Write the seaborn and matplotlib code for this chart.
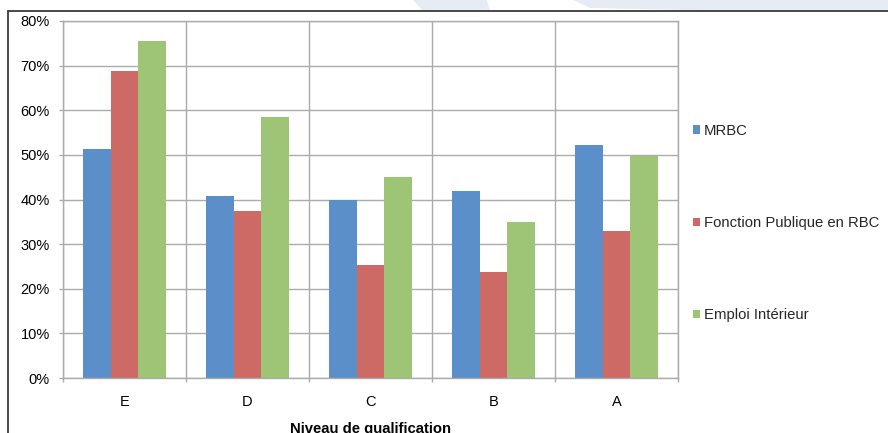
import numpy as np
import pandas as pd
import matplotlib
matplotlib.use("Agg")
import matplotlib.pyplot as plt
from matplotlib.lines import Line2D
from matplotlib.patches import Polygon
from matplotlib.ticker import PercentFormatter, FixedLocator
import seaborn as sns

# Parts par niveau de qualification
niveaux = ["E", "D", "C", "B", "A"]
series = ["MRBC", "Fonction Publique en RBC", "Emploi Intérieur"]
mrbc = [0.513, 0.407, 0.398, 0.418, 0.522]
fonction_publique = [0.688, 0.375, 0.253, 0.238, 0.330]
emploi_interieur = [0.756, 0.584, 0.451, 0.350, 0.498]
y_ticks = [0.0, 0.1, 0.2, 0.3, 0.4, 0.5, 0.6, 0.7, 0.8]
x_label = "Niveau de qualification"

colors = ["#5B8FCA", "#CD6A66", "#9DC575"]
grid_color = "#ABABAB"

df = pd.DataFrame({
    "Niveau": niveaux * len(series),
    "Série": np.repeat(series, len(niveaux)),
    "Part": mrbc + fonction_publique + emploi_interieur,
})

sns.set_theme(style="white")
plt.rcParams["font.family"] = ["Liberation Sans", "DejaVu Sans"]

W, H = 888, 433
fig = plt.figure(figsize=(W / 100, H / 100), dpi=100)
fig.patch.set_facecolor("white")

# faint background shapes along the top strip
for pts in ([(413, 0), (487, 0), (490, 11), (423, 11)],
            [(573, 0), (888, 0), (888, 11), (735, 11), (590, 8)]):
    fig.patches.append(Polygon([(x / W, 1 - y / H) for x, y in pts],
                               closed=True, transform=fig.transFigure,
                               facecolor="#E7ECF4", edgecolor="none", zorder=0))

# frame lines on the left and top
fig.add_artist(Line2D([8 / W, 8 / W], [1 - 11 / H, 0], color="#3A3A3A", lw=1.3))
fig.add_artist(Line2D([8 / W, 1], [1 - 11 / H, 1 - 11 / H], color="#3A3A3A", lw=1.3))

ax = fig.add_axes([63 / W, 1 - 378 / H, 615 / W, 357 / H])
sns.barplot(data=df, x="Niveau", y="Part", hue="Série", order=niveaux,
            hue_order=series, palette=colors, width=0.667, saturation=1,
            gap=0, linewidth=0, ax=ax)

ax.set_xlim(-0.5, len(niveaux) - 0.5)
ax.set_ylim(0, 0.8)
ax.set_axisbelow(True)
ax.yaxis.set_major_locator(FixedLocator(y_ticks))
ax.yaxis.set_major_formatter(PercentFormatter(1.0, decimals=0))
ax.xaxis.set_minor_locator(FixedLocator(np.arange(-0.5, len(niveaux), 1.0)))

ax.grid(which="major", axis="y", color=grid_color, lw=1.0)
ax.grid(which="minor", axis="x", color=grid_color, lw=1.0)
for s in ax.spines.values():
    s.set_color(grid_color)
    s.set_linewidth(1.0)

ax.tick_params(axis="y", which="major", left=True, length=3, width=1.0,
               color=grid_color, pad=6.5, labelsize=10.5, labelcolor="black")
ax.tick_params(axis="x", which="major", bottom=True, length=0, pad=12,
               labelsize=10.5, labelcolor="black")
ax.tick_params(axis="x", which="minor", bottom=True, length=3, width=1.0,
               color=grid_color)

ax.set_ylabel("")
ax.set_xlabel(x_label, fontsize=10.7, fontweight="bold", color="black", va="top")
ax.xaxis.set_label_coords(0.5, -0.124)

handles, labels = ax.get_legend_handles_labels()
ax.legend(handles, labels, loc="upper left", frameon=False,
          bbox_to_anchor=(693 / W, 1 - 124 / H), bbox_transform=fig.transFigure,
          fontsize=10.7, handlelength=0.5, handleheight=0.5, handletextpad=0.22,
          labelspacing=5.26, borderpad=0, borderaxespad=0)

fig.savefig("out.png", dpi=100, facecolor="white")
